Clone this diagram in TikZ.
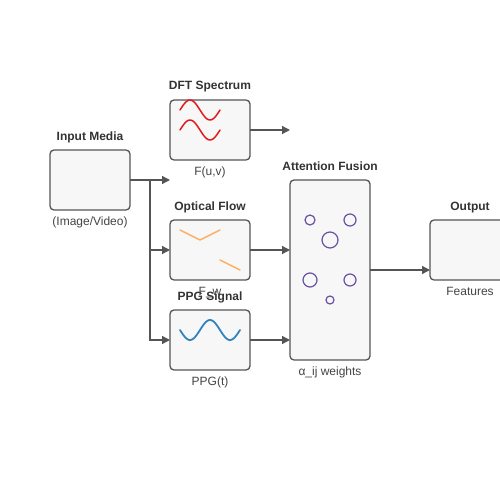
\documentclass[tikz,border=0pt]{standalone}
\usepackage{fontspec}
\setmainfont{Liberation Sans}
\usetikzlibrary{arrows.meta}
\definecolor{boxfill}{HTML}{F7F7F7}
\definecolor{strokec}{HTML}{555555}
\definecolor{titlec}{HTML}{333333}
\definecolor{labelc}{HTML}{444444}
\definecolor{wavered}{HTML}{E31A1C}
\definecolor{flowor}{HTML}{FDAE61}
\definecolor{ppgblue}{HTML}{3182BD}
\definecolor{attpurple}{HTML}{6A51A3}
\begin{document}
\begin{tikzpicture}[x=1pt,y=-1pt,
  box/.style={draw=strokec, fill=boxfill, line width=1.3pt, rounded corners=4pt,
    minimum width=80pt, minimum height=60pt, inner sep=0pt, outer sep=0pt, anchor=north west},
  ttl/.style={font=\bfseries\fontsize{12}{14}\selectfont, text=titlec, anchor=base, inner sep=0pt},
  lbl/.style={font=\fontsize{12}{14}\selectfont, text=labelc, anchor=base, inner sep=0pt},
  conn/.style={draw=strokec, line width=1.3pt},
  arr/.style={conn, -{Triangle[length=8pt,width=8pt]}},
  icon/.style={line width=1.5pt, line cap=round, line join=round}]
\clip (0,0) rectangle (500,500);
\useasboundingbox (0,0) rectangle (500,500);
% boxes
\node[box] (in) at (50,150) {};
\node[box] (dft) at (170,100) {};
\node[box] (of) at (170,220) {};
\node[box] (ppg) at (170,310) {};
\node[box, minimum height=180pt] (att) at (290,180) {};
\node[box] (out) at (430,220) {};
% titles
\node[ttl] (tin) at (90,140) {Input Media};
\node[ttl] (tdft) at (210,90) {DFT Spectrum};
\node[ttl] (tof) at (210,210) {Optical Flow};
\node[ttl] (tppg) at (210,300) {PPG Signal};
\node[ttl] (tatt) at (330,170) {Attention Fusion};
\node[ttl] (tout) at (470,210) {Output};
% labels
\node[lbl] (lin) at (90,225) {(Image/Video)};
\node[lbl] (ldft) at (210,175) {F(u,v)};
\node[lbl] (lof) at (210,295) {F\_w};
\node[lbl] (lppg) at (210,385) {PPG(t)};
\node[lbl] (latt) at (330,375) {α\_ij weights};
\node[lbl] (lout) at (470,295) {Features};
% connectors
\coordinate (j) at (in.east -| 150,0);
\coordinate (e1) at (in.east -| dft.west);
\coordinate (e2) at (dft.east -| att.west);
\draw[arr] (in.east) -- (e1);
\draw[arr] (j) |- (of.west);
\draw[arr] (j) |- (ppg.west);
\draw[arr] (dft.east) -- (e2);
\draw[arr] (of.east) -- (att.west |- of.east);
\draw[arr] (ppg.east) -- (att.west |- ppg.east);
\draw[arr] (att.east) -- (att.east -| out.west);
% icons
\draw[icon, wavered] plot[domain=180:220, samples=41, smooth] (\x, {110-10*sin(9*(\x-180))});
\draw[icon, wavered] plot[domain=180:220, samples=41, smooth] (\x, {130-10*sin(9*(\x-180))});
\draw[icon, flowor] (180,230) -- (200,240) -- (220,230);
\draw[icon, flowor] (220,260) -- (240,270);
\draw[icon, ppgblue, line width=1.8pt] plot[domain=180:240, samples=61, smooth] (\x, {330+10*sin(9*(\x-180))});
\begin{scope}[attpurple, line width=1.2pt]
\draw (310,220) circle[radius=5];
\draw (350,220) circle[radius=6];
\draw (330,240) circle[radius=8];
\draw (310,280) circle[radius=7];
\draw (350,280) circle[radius=6];
\draw (330,300) circle[radius=4];
\end{scope}
\end{tikzpicture}
\end{document}
